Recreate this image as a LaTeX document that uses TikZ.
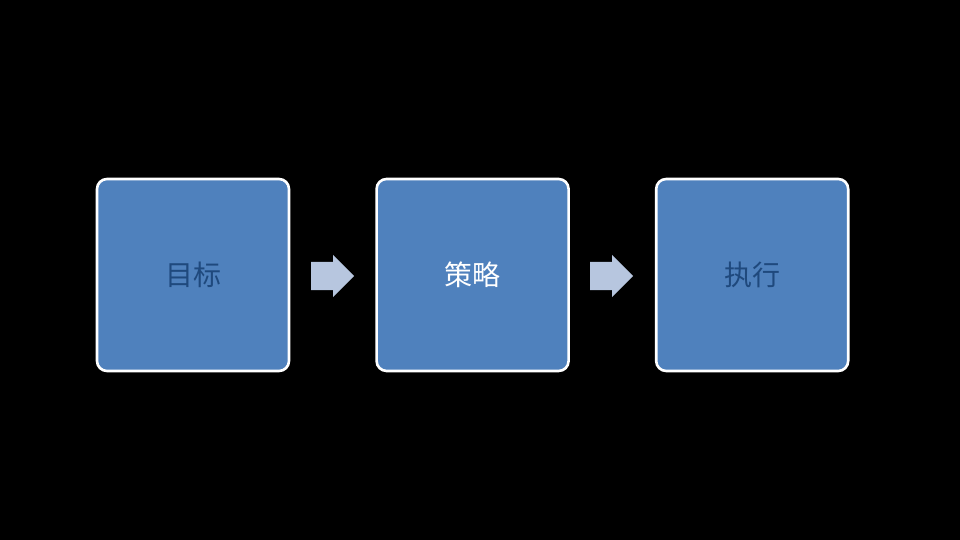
\documentclass[tikz,border=0pt]{standalone}
\usepackage{fontspec}
\newfontfamily\cjk{Noto Sans CJK SC}
\usepackage{tikz}
\usetikzlibrary{shapes}
\usetikzlibrary{shapes.arrows}
\usetikzlibrary{positioning}

\definecolor{boxblue}{HTML}{4F81BD}
\definecolor{darktext}{HTML}{1F497D}
\definecolor{arrowblue}{HTML}{B7C6DF}

\tikzset{
  stagebox/.style={rectangle, rounded corners=10pt, draw=white, line width=2.6pt,
    fill=boxblue, minimum size=192pt, inner sep=0pt, font=\cjk\fontsize{28}{31}\selectfont},
  stagearrow/.style={single arrow, fill=arrowblue, inner sep=0pt, text width=0pt,
    text height=28pt, text depth=0pt, minimum height=43pt,
    single arrow head extend=7pt, anchor=tail}
}

\begin{document}
\begin{tikzpicture}[x=1pt, y=1pt, node distance=85pt]
  \fill[black] (0,0) rectangle (960,540);
  \useasboundingbox (0,0) rectangle (960,540);

  \node [stagebox, text=darktext] (goal) at (193,265) {目标};
  \node [stagebox, text=white, right=of goal] (strategy) {策略};
  \node [stagebox, text=darktext, right=of strategy] (action) {执行};

  \node [stagearrow] (arrowA) at (311,264) {};
  \node [stagearrow] (arrowB) at (590,264) {};
\end{tikzpicture}
\end{document}
